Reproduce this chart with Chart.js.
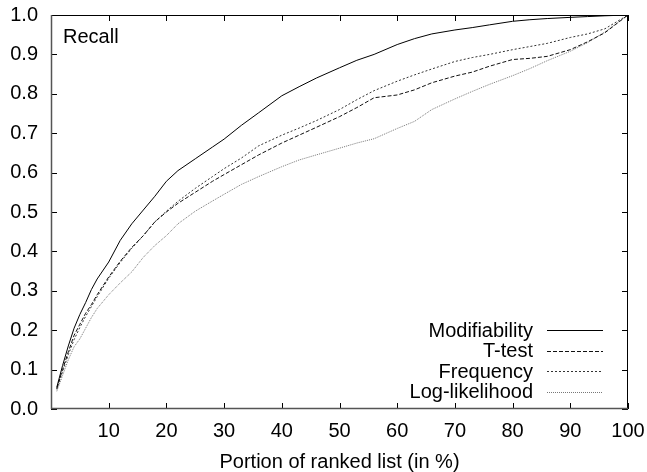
<!DOCTYPE html>
<html>
<head>
<meta charset="utf-8">
<script src="https://cdn.jsdelivr.net/npm/chart.js@4/dist/chart.umd.min.js"></script>
<style>
html,body{margin:0;padding:0;background:#fff;}
canvas{display:block;}
</style>
</head>
<body>
<canvas id="c" width="647" height="472"></canvas>
<script>
const xValues = [1,2,3,4,5,6,7,8,10,12,14,16,18,20,22,25,28,30,33,36,40,43,46,50,53,56,60,63,66,70,73,76,80,83,86,90,93,96,100];
const modifiability = [0.055,0.11,0.16,0.205,0.24,0.27,0.303,0.33,0.373,0.428,0.47,0.505,0.54,0.578,0.605,0.635,0.665,0.685,0.72,0.752,0.795,0.818,0.84,0.866,0.885,0.9,0.925,0.94,0.952,0.962,0.968,0.975,0.984,0.988,0.991,0.994,0.996,0.998,1.0];
const ttest = [0.052,0.1,0.145,0.187,0.215,0.243,0.265,0.29,0.335,0.375,0.41,0.44,0.475,0.5,0.522,0.55,0.578,0.595,0.62,0.645,0.675,0.695,0.715,0.742,0.765,0.79,0.797,0.81,0.828,0.845,0.855,0.87,0.887,0.89,0.895,0.912,0.932,0.955,1.0];
const frequency = [0.05,0.095,0.138,0.176,0.207,0.235,0.26,0.285,0.332,0.372,0.408,0.44,0.475,0.502,0.527,0.56,0.59,0.61,0.637,0.668,0.695,0.713,0.732,0.76,0.785,0.808,0.832,0.848,0.863,0.882,0.892,0.9,0.912,0.92,0.928,0.943,0.952,0.965,1.0];
const loglikelihood = [0.045,0.085,0.125,0.158,0.178,0.205,0.232,0.255,0.29,0.32,0.348,0.385,0.415,0.44,0.47,0.502,0.528,0.545,0.57,0.59,0.615,0.632,0.645,0.662,0.675,0.686,0.712,0.73,0.76,0.787,0.806,0.824,0.846,0.864,0.884,0.908,0.93,0.957,1.0];
const seriesNames = ['Modifiability','T-test','Frequency','Log-likelihood'];
const xTicks = [10,20,30,40,50,60,70,80,90,100];
const yTicks = [0.0,0.1,0.2,0.3,0.4,0.5,0.6,0.7,0.8,0.9,1.0];
const xTitle = 'Portion of ranked list (in %)';
const yTitle = 'Recall';

const FONT = '"Liberation Sans", Arial, Helvetica, sans-serif';
Chart.defaults.font.family = FONT;
Chart.defaults.font.size = 20;
Chart.defaults.color = '#000';

const styles = [
  {color:'#000', dash:[]},
  {color:'#111', dash:[4,2]},
  {color:'#333', dash:[2,2]},
  {color:'#777', dash:[1,1]}
];
const allSeries = [modifiability, ttest, frequency, loglikelihood];

const datasets = allSeries.map((s, k) => ({
  label: seriesNames[k],
  data: xValues.map((x, i) => ({x: x, y: s[i]})),
  borderColor: styles[k].color,
  borderDash: styles[k].dash,
  borderWidth: 1,
  pointRadius: 0,
  fill: false,
  tension: 0
}));

const framePlugin = {
  id: 'frame',
  afterDraw(chart) {
    const ctx = chart.ctx;
    const a = chart.chartArea;
    const xs = chart.scales.x, ys = chart.scales.y;
    ctx.save();
    ctx.strokeStyle = '#000';
    ctx.lineWidth = 1;
    const tl = 6;
    ctx.beginPath();
    xTicks.forEach(v => {
      const px = Math.round(xs.getPixelForValue(v)) + 0.5;
      ctx.moveTo(px, a.bottom); ctx.lineTo(px, a.bottom - tl);
      ctx.moveTo(px, a.top); ctx.lineTo(px, a.top + tl);
    });
    yTicks.forEach(v => {
      const py = Math.round(ys.getPixelForValue(v)) + 0.5;
      ctx.moveTo(a.left, py); ctx.lineTo(a.left + tl, py);
      ctx.moveTo(a.right, py); ctx.lineTo(a.right - tl, py);
    });
    ctx.stroke();
    ctx.beginPath();
    ctx.strokeStyle = '#000';
    ctx.moveTo(a.left, a.top + 0.5); ctx.lineTo(a.right, a.top + 0.5);
    ctx.moveTo(a.right - 0.5, a.top); ctx.lineTo(a.right - 0.5, a.bottom);
    ctx.stroke();
    ctx.beginPath();
    ctx.strokeStyle = '#555';
    ctx.lineWidth = 1.5;
    ctx.moveTo(a.left + 0.5, a.top); ctx.lineTo(a.left + 0.5, a.bottom);
    ctx.moveTo(a.left, a.bottom - 0.5); ctx.lineTo(a.right, a.bottom - 0.5);
    ctx.stroke();
    ctx.fillStyle = '#000';
    ctx.font = '20px ' + FONT;
    ctx.textAlign = 'left';
    ctx.textBaseline = 'alphabetic';
    ctx.fillText(yTitle, a.left + 12, a.top + 28);
    const textRight = a.right - 95;
    const lineX0 = a.right - 81, lineX1 = a.right - 25;
    const rowY0 = a.bottom - 79, rowDy = 20.5;
    ctx.textAlign = 'right';
    ctx.textBaseline = 'middle';
    chart.data.datasets.forEach((ds, k) => {
      const y = rowY0 + k * rowDy;
      ctx.fillStyle = '#000';
      ctx.fillText(ds.label, textRight, y + 1);
      ctx.beginPath();
      ctx.strokeStyle = ds.borderColor;
      ctx.lineWidth = 1;
      ctx.setLineDash(ds.borderDash);
      ctx.moveTo(lineX0, Math.round(y) + 0.5);
      ctx.lineTo(lineX1, Math.round(y) + 0.5);
      ctx.stroke();
      ctx.setLineDash([]);
    });
    ctx.restore();
  }
};

new Chart(document.getElementById('c'), {
  type: 'line',
  data: { datasets: datasets },
  options: {
    responsive: false,
    animation: false,
    layout: { padding: { left: 0, right: 19, top: 15, bottom: 0 } },
    plugins: { legend: { display: false }, tooltip: { enabled: false } },
    scales: {
      x: {
        type: 'linear',
        min: 0, max: 100,
        grid: { display: false, drawTicks: false },
        border: { display: false },
        afterBuildTicks: s => { s.ticks = xTicks.map(v => ({value: v})); },
        afterFit: s => { s.height = 63; s.paddingLeft = 0; s.paddingRight = 0; },
        ticks: { padding: 10, maxRotation: 0, autoSkip: false, font: { size: 20 } },
        title: { display: true, text: xTitle, font: { size: 20, lineHeight: 1.0 }, padding: { top: 0, bottom: 0 } }
      },
      y: {
        min: 0, max: 1,
        grid: { display: false, drawTicks: false },
        border: { display: false },
        afterBuildTicks: s => { s.ticks = yTicks.map(v => ({value: v})); },
        afterFit: s => { s.width = 51; s.paddingTop = 0; s.paddingBottom = 0; },
        ticks: { padding: 13, autoSkip: false, callback: v => Number(v).toFixed(1), font: { size: 20 } }
      }
    }
  },
  plugins: [framePlugin]
});
</script>
</body>
</html>
